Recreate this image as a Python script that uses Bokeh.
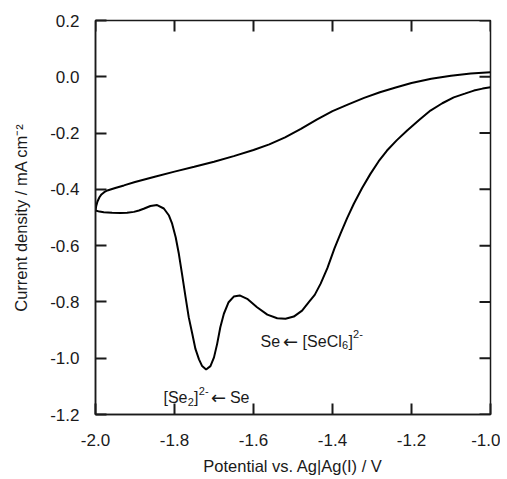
import math
from bokeh.plotting import figure
from bokeh.models import Range1d, FixedTicker, PrintfTickFormatter, Label
from bokeh.embed import file_html
from bokeh.resources import INLINE

# ---- data ----
upper_v = [-2.000, -1.998, -1.995, -1.990, -1.985, -1.978, -1.970, -1.950, -1.928, -1.900,
           -1.850, -1.800, -1.750, -1.700, -1.650, -1.600, -1.560, -1.520, -1.480, -1.440,
           -1.400, -1.360, -1.320, -1.280, -1.240, -1.200, -1.150, -1.100, -1.050, -1.000]
upper_j = [-0.475, -0.458, -0.443, -0.428, -0.418, -0.410, -0.404, -0.395, -0.386, -0.374,
           -0.355, -0.337, -0.320, -0.302, -0.282, -0.260, -0.240, -0.215, -0.185, -0.152,
           -0.122, -0.098, -0.075, -0.055, -0.038, -0.022, -0.007, 0.004, 0.012, 0.016]

lower_v = [-2.000, -1.990, -1.979, -1.958, -1.937, -1.920, -1.903, -1.890, -1.878, -1.861,
           -1.844, -1.827, -1.814, -1.806, -1.797, -1.789, -1.781, -1.772, -1.764, -1.755,
           -1.747, -1.738, -1.730, -1.720, -1.709, -1.700, -1.692, -1.684, -1.675, -1.663,
           -1.650, -1.635, -1.616, -1.591, -1.565, -1.540, -1.519, -1.498, -1.477, -1.460,
           -1.445, -1.430, -1.413, -1.395, -1.380, -1.363, -1.346, -1.325, -1.304, -1.283,
           -1.262, -1.237, -1.211, -1.180, -1.152, -1.122, -1.093, -1.065, -1.042, -1.020,
           -1.000]
lower_j = [-0.475, -0.479, -0.481, -0.483, -0.484, -0.483, -0.480, -0.475, -0.469, -0.459,
           -0.456, -0.468, -0.493, -0.522, -0.570, -0.629, -0.700, -0.783, -0.854, -0.913,
           -0.967, -1.004, -1.028, -1.040, -1.028, -0.997, -0.949, -0.890, -0.842, -0.801,
           -0.781, -0.777, -0.789, -0.819, -0.845, -0.858, -0.860, -0.852, -0.831, -0.801,
           -0.775, -0.735, -0.680, -0.610, -0.558, -0.502, -0.451, -0.395, -0.345, -0.300,
           -0.262, -0.225, -0.191, -0.153, -0.120, -0.094, -0.073, -0.060, -0.049, -0.042,
           -0.037]

x_ticks = [-2.0, -1.8, -1.6, -1.4, -1.2, -1.0]
y_ticks = [0.2, 0.0, -0.2, -0.4, -0.6, -0.8, -1.0, -1.2]

# annotation anchors (data units): (x, y)
ann1_anchor = (-1.828, -1.140)
ann2_anchor = (-1.582, -0.940)

X0, X1 = -2.0, -1.0
Y0, Y1 = -1.2, 0.2
FRAME_W, FRAME_H = 395, 394
TICK_PX = 11

FONT = "Liberation Sans"
INK = "#1a1a1a"

p = figure(width=500, height=478, output_backend="svg", toolbar_location=None,
           x_range=Range1d(X0, X1), y_range=Range1d(Y0, Y1),
           min_border_left=95, min_border_top=20, min_border_right=10, min_border_bottom=64)
p.background_fill_color = "white"
p.border_fill_color = "white"
p.outline_line_color = INK
p.outline_line_width = 1.5
p.xgrid.visible = False
p.ygrid.visible = False

p.line(upper_v, upper_j, line_color="black", line_width=2)
p.line(lower_v, lower_j, line_color="black", line_width=2)

# inward ticks on the top and right sides (left/bottom come from the axes)
dx = TICK_PX * (X1 - X0) / FRAME_W
dy = TICK_PX * (Y1 - Y0) / FRAME_H
ny, nx = len(y_ticks), len(x_ticks)
p.segment(x0=[X1] * ny, y0=y_ticks, x1=[X1 - dx] * ny, y1=y_ticks, line_color=INK, line_width=2)
p.segment(x0=x_ticks, y0=[Y1] * nx, x1=x_ticks, y1=[Y1 - dy] * nx, line_color=INK, line_width=2)

def style(ax, ticks):
    ax.ticker = FixedTicker(ticks=ticks)
    ax.formatter = PrintfTickFormatter(format="%.1f")
    ax.major_tick_in = TICK_PX
    ax.major_tick_out = 0
    ax.major_tick_line_color = INK
    ax.major_tick_line_width = 2
    ax.minor_tick_line_color = None
    ax.axis_line_color = INK
    ax.axis_line_width = 1.5
    ax.major_label_text_font = FONT
    ax.major_label_text_color = INK
    ax.major_label_text_font_size = "17px"
    ax.axis_label_text_font = FONT
    ax.axis_label_text_font_style = "normal"
    ax.axis_label_text_color = INK
    ax.axis_label_text_font_size = "16.5px"

xa = p.xaxis[0]
style(xa, x_ticks)
xa.axis_label = "Potential vs. Ag|Ag(I) / V"
xa.major_label_standoff = 19
xa.axis_label_standoff = 8

ya = p.yaxis[0]
style(ya, y_ticks)
ya.axis_label = "Current density / mA cm\u207b\u00b2"
ya.major_label_standoff = 16
ya.axis_label_standoff = 17

def piece(anchor, text, dx, dy=0, size="16px", font=FONT):
    p.add_layout(Label(x=anchor[0], y=anchor[1], text=text, x_offset=dx, y_offset=dy,
                       text_font=font, text_font_size=size, text_color=INK,
                       text_baseline="alphabetic", text_align="left"))

ARROW_FONT = "DejaVu Sans"

# [Se2]2- <- Se
piece(ann1_anchor, "[Se", 0)
piece(ann1_anchor, "2", 24.2, -4, "11px")
piece(ann1_anchor, "]", 30.6)
piece(ann1_anchor, "2-", 35.4, 7, "11px")
piece(ann1_anchor, "\u2190", 47.5, 0, "18px", ARROW_FONT)
piece(ann1_anchor, "Se", 66.5)

# Se <- [SeCl6]2-
piece(ann2_anchor, "Se", 0)
piece(ann2_anchor, "\u2190", 22.5, 0, "18px", ARROW_FONT)
piece(ann2_anchor, "[SeCl", 42)
piece(ann2_anchor, "6", 81.3, -4, "11px")
piece(ann2_anchor, "]", 87.8)
piece(ann2_anchor, "2-", 92.4, 7, "11px")

open("out.html", "w").write(file_html(p, INLINE))
